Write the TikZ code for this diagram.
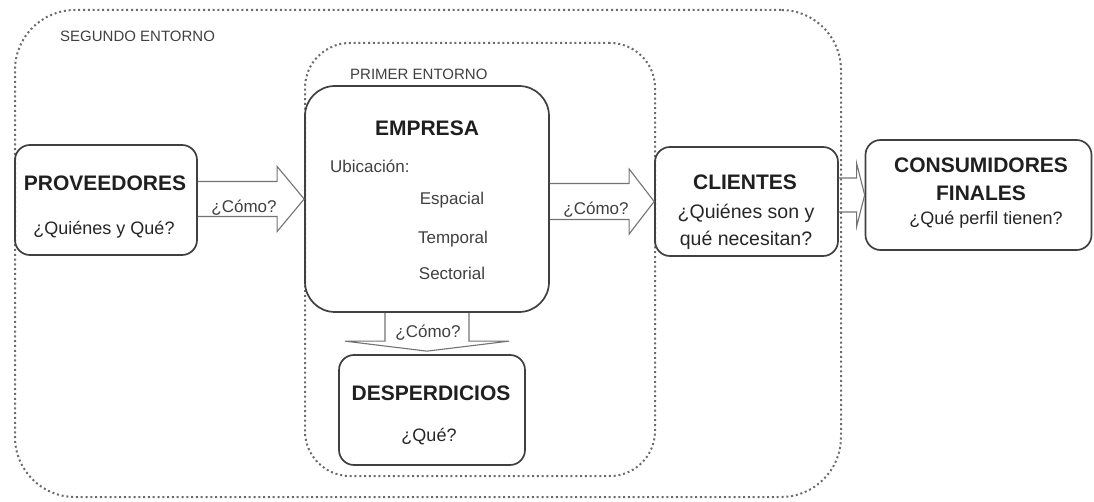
\documentclass[tikz,border=0pt]{standalone}
\usepackage{fontspec}
\setmainfont{Liberation Sans}
\usetikzlibrary{calc}

\tikzset{
  box/.style={draw=black!75, line width=1.7pt, rounded corners=15pt, inner sep=0},
  zone/.style={draw=black!58, line width=2pt, dash pattern=on 2pt off 2.8pt, inner sep=0},
  big/.style={inner sep=0, text=black!88, font=\fontsize{21}{25}\selectfont\bfseries},
  small/.style={inner sep=0, text=black!85, font=\fontsize{18}{22}\selectfont},
  tag/.style={inner sep=0, text=black!75, font=\fontsize{15}{18}\selectfont},
  how/.style={inner sep=0, text=black!75, font=\fontsize{17}{20}\selectfont},
  fat/.style={draw=black!55, line width=1.1pt, line join=miter},
}

% start, tip, head length, half shaft, half head
\newcommand\fatarrow[5]{%
  \draw[fat] let \p1=(#1), \p2=(#2) in (\x1,\y2+#4) -- (\x2-#3,\y2+#4) -- (\x2-#3,\y2+#5)
    -- (\x2,\y2) -- (\x2-#3,\y2-#5) -- (\x2-#3,\y2-#4) -- (\x1,\y2-#4);}

\begin{document}
\begin{tikzpicture}[x=1pt, y=-1pt]
\useasboundingbox (0,0) rectangle (1094,502);

% entornos
\node[zone, rounded corners=60pt, minimum width=826pt, minimum height=487pt] (outer) at (428,253.5) {};
\node[zone, rounded corners=45pt, minimum width=350pt, minimum height=433pt] (inner) at (480,259.5) {};
\node[tag, anchor=west] (segundo) at (60,36) {SEGUNDO ENTORNO};
\node[tag, anchor=west] (primer) at (350,74) {PRIMER ENTORNO};

% cajas
\node[box, minimum width=182pt, minimum height=110pt] (prov) at (106,200) {};
\node[box, rounded corners=30pt, minimum width=244pt, minimum height=226pt] (emp) at (427,199) {};
\node[box, minimum width=186pt, minimum height=110pt] (desp) at (432,410) {};
\node[box, minimum width=183pt, minimum height=109pt] (cli) at (746.5,201.5) {};
\node[box, minimum width=226pt, minimum height=110pt] (cons) at (978.5,195) {};

% textos
\node[big] (provt) at (105,183) {PROVEEDORES};
\node[small] (provq) at (104,230) {¿Quiénes y Qué?};
\node[big] (empt) at (427,128) {EMPRESA};
\node[how, anchor=west] (ubic) at (330,166) {Ubicación:};
\node[how] (esp) at (452,200) {Espacial};
\node[how] (temp) at (453,239) {Temporal};
\node[how] (sect) at (452,273) {Sectorial};
\node[big] (despt) at (431,393) {DESPERDICIOS};
\node[small] (despq) at (429,437) {¿Qué?};
\node[big] (clit) at (745,182) {CLIENTES};
\node[small, font=\fontsize{19.5}{22}\selectfont] (cliq1) at (746,213) {¿Quiénes son y};
\node[small, font=\fontsize{19.5}{22}\selectfont] (cliq2) at (746,240) {qué necesitan?};
\node[big] (const1) at (981,165) {CONSUMIDORES};
\node[big] (const2) at (981,193) {FINALES};
\node[small] (consq) at (986,220) {¿Qué perfil tienen?};

% flechas
\fatarrow{prov.east}{emp.west}{27pt}{17.5pt}{32.5pt}
\fatarrow{emp.east}{cli.west}{25pt}{18pt}{32.5pt}
\fatarrow{cli.east}{cons.west}{8pt}{17pt}{31.5pt}
\draw[fat] let \p1=(emp.south), \p2=(desp.north) in
  (\x1-42pt,\y1) -- (\x1-42pt,\y2+13pt) -- (\x1-82pt,\y2+13pt) -- (\x1,\y2+3pt)
  -- (\x1+82pt,\y2+13pt) -- (\x1+42pt,\y2+13pt) -- (\x1+42pt,\y1);
\node[how] (como1) at (244,208) {¿Cómo?};
\node[how] (como2) at (596,210) {¿Cómo?};
\node[how] (como3) at (428,333) {¿Cómo?};
\end{tikzpicture}
\end{document}
